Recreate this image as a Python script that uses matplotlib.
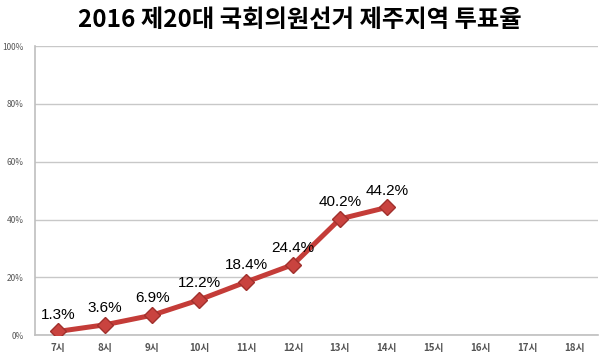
import matplotlib
matplotlib.use("Agg")
import matplotlib.pyplot as plt
from matplotlib.ticker import FuncFormatter

plt.rcParams['font.family'] = ['Noto Sans CJK KR', 'DejaVu Sans']

# 시간대별 투표율 (14시까지만 집계)
hours = ['7시', '8시', '9시', '10시', '11시', '12시', '13시', '14시',
         '15시', '16시', '17시', '18시']
turnout = [1.3, 3.6, 6.9, 12.2, 18.4, 24.4, 40.2, 44.2]
yticks = [0, 20, 40, 60, 80, 100]

fig = plt.figure(figsize=(6, 3.6), dpi=100)
ax = fig.add_axes([0.058, 0.069, 0.939, 0.803])

x = list(range(len(hours)))
ax.plot(x[:len(turnout)], turnout, color='#c43c38', lw=3.6,
        marker='D', ms=8, mfc='#c9433f', mec='#a0302c', mew=1, zorder=3)

for xi, v in zip(x, turnout):
    ax.annotate(f'{v}%', (xi, v), xytext=(0, 7), textcoords='offset points',
                ha='center', va='bottom', fontsize=11,
                family=['Liberation Sans Narrow', 'Liberation Sans', 'DejaVu Sans'])

ax.set_xlim(-0.5, len(hours) - 0.5)
ax.set_ylim(0, 100)
ax.set_xticks(x)
ax.set_xticklabels(hours, fontsize=7, color='#555555', fontweight='bold')
ax.set_yticks(yticks)
ax.yaxis.set_major_formatter(FuncFormatter(lambda v, p: f'{v:.0f}%'))
ax.tick_params(axis='y', labelsize=6, labelcolor='#555555', length=0, pad=8)
ax.tick_params(axis='x', length=0, pad=6)
ax.grid(axis='y', color='#c8c8c8', lw=1)
ax.set_axisbelow(True)
for s in ['top', 'right']:
    ax.spines[s].set_visible(False)
for s in ['left', 'bottom']:
    ax.spines[s].set_color('#bfbfbf')
    ax.spines[s].set_linewidth(1.2)

fig.text(0.5, 0.945, '2016 제20대 국회의원선거 제주지역 투표율', ha='center', va='center',
         fontsize=17.5, fontweight='bold')

fig.savefig('out.png', dpi=100)
